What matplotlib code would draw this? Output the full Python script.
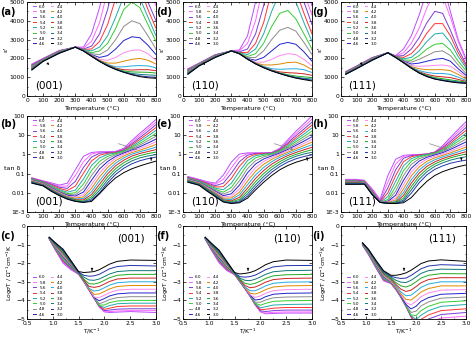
import numpy as np
import matplotlib
matplotlib.use("Agg")
import matplotlib.pyplot as plt
from matplotlib.lines import Line2D

# ---------------- data ----------------
labels = ['6.0', '5.8', '5.6', '5.4', '5.2', '5.0', '4.8', '4.6',
          '4.4', '4.2', '4.0', '3.8', '3.6', '3.4', '3.2', '3.0']
colors = ['#b84dff', '#ff66ff', '#7a3dd6', '#ff3333', '#22aaaa', '#33cc33',
          '#8c8c8c', '#2222cc', '#ff88ee', '#dd8800', '#22aadd', '#cc2222',
          '#22aa22', '#117777', '#2233aa', '#000000']
orients = ['(001)', '(110)', '(111)']

# row 1: permittivity eps' vs temperature
temp_eps = [30, 100, 200, 300, 350, 400, 450, 500, 550, 600, 650, 700, 750, 800]
eps_001 = [
    [1700, 2000, 2420, 2600, 2600, 3300, 4700, 6500, 9000, 9000, 8000, 7000, 6000, 5200],
    [1680, 1990, 2410, 2600, 2550, 2900, 3900, 5600, 8000, 8500, 7800, 6800, 5800, 4800],
    [1650, 1980, 2400, 2600, 2500, 2650, 3300, 4600, 6500, 7500, 7200, 6200, 5000, 4000],
    [1620, 1960, 2390, 2600, 2480, 2500, 2900, 3800, 5200, 6300, 6500, 5800, 4600, 3600],
    [1600, 1950, 2380, 2600, 2460, 2400, 2600, 3200, 4200, 5300, 5700, 5200, 4200, 3200],
    [1580, 1940, 2370, 2600, 2450, 2300, 2400, 2800, 3600, 4600, 5000, 4700, 3800, 2900],
    [1560, 1930, 2360, 2600, 2440, 2250, 2200, 2450, 3000, 3700, 4000, 3850, 3200, 2500],
    [1540, 1920, 2350, 2600, 2430, 2200, 2050, 2150, 2500, 2950, 3150, 3100, 2700, 2200],
    [1520, 1910, 2340, 2600, 2420, 2180, 1950, 1900, 2050, 2300, 2430, 2450, 2250, 1900],
    [1500, 1900, 2330, 2600, 2410, 2160, 1900, 1750, 1750, 1850, 1950, 2000, 1900, 1700],
    [1480, 1890, 2320, 2600, 2400, 2150, 1870, 1680, 1550, 1550, 1600, 1620, 1600, 1500],
    [1460, 1880, 2310, 2600, 2400, 2140, 1860, 1650, 1480, 1400, 1380, 1400, 1400, 1350],
    [1440, 1870, 2300, 2600, 2400, 2130, 1850, 1630, 1450, 1330, 1280, 1270, 1260, 1220],
    [1420, 1860, 2290, 2600, 2400, 2120, 1850, 1620, 1430, 1290, 1200, 1150, 1120, 1100],
    [1400, 1850, 2280, 2600, 2400, 2120, 1840, 1610, 1420, 1270, 1150, 1070, 1020, 1000],
    [1380, 1840, 2270, 2600, 2400, 2110, 1840, 1600, 1410, 1260, 1130, 1030, 970, 940],
]
eps_110 = [
    [1450, 1750, 2200, 2400, 2450, 3200, 5000, 7500, 10000, 10000, 9000, 7500, 6000, 4800],
    [1430, 1740, 2190, 2400, 2400, 2800, 4000, 6000, 8500, 9000, 8500, 7000, 5500, 4300],
    [1410, 1730, 2180, 2400, 2350, 2500, 3300, 4800, 7000, 8000, 7500, 6300, 5000, 3800],
    [1390, 1720, 2170, 2400, 2320, 2300, 2800, 3900, 5600, 6600, 6500, 5600, 4400, 3300],
    [1370, 1710, 2160, 2400, 2300, 2200, 2500, 3300, 4500, 5500, 5600, 5000, 3900, 2900],
    [1350, 1700, 2150, 2400, 2280, 2100, 2250, 2800, 3700, 4400, 4550, 4100, 3300, 2500],
    [1330, 1690, 2140, 2400, 2260, 2050, 2050, 2400, 3000, 3500, 3650, 3450, 2850, 2200],
    [1310, 1680, 2130, 2400, 2250, 2000, 1900, 2050, 2400, 2750, 2850, 2750, 2350, 1850],
    [1290, 1670, 2120, 2400, 2250, 1990, 1800, 1800, 1950, 2150, 2250, 2200, 1950, 1600],
    [1270, 1660, 2110, 2400, 2250, 1980, 1760, 1650, 1650, 1700, 1780, 1800, 1650, 1400],
    [1250, 1650, 2100, 2400, 2250, 1980, 1740, 1570, 1450, 1420, 1440, 1450, 1400, 1250],
    [1230, 1640, 2090, 2400, 2250, 1970, 1730, 1540, 1380, 1280, 1240, 1220, 1180, 1100],
    [1210, 1630, 2080, 2400, 2250, 1970, 1720, 1530, 1360, 1230, 1130, 1060, 1020, 980],
    [1190, 1620, 2070, 2400, 2250, 1960, 1720, 1520, 1350, 1210, 1090, 1000, 940, 900],
    [1170, 1610, 2060, 2400, 2250, 1960, 1710, 1510, 1340, 1200, 1070, 970, 900, 840],
    [1150, 1600, 2050, 2400, 2250, 1960, 1710, 1500, 1330, 1190, 1060, 950, 870, 800],
]
eps_111 = [
    [1300, 1600, 2050, 2300, 2150, 2500, 3200, 4300, 5600, 6500, 6000, 4500, 3000, 2000],
    [1290, 1590, 2040, 2300, 2130, 2300, 2800, 3600, 4700, 5500, 5300, 4200, 2900, 1900],
    [1280, 1580, 2030, 2300, 2120, 2150, 2500, 3100, 3900, 4500, 4400, 3500, 2500, 1700],
    [1270, 1570, 2020, 2300, 2110, 2050, 2250, 2700, 3350, 3850, 3850, 3200, 2300, 1600],
    [1260, 1560, 2010, 2300, 2100, 1980, 2050, 2400, 2900, 3300, 3350, 2850, 2100, 1500],
    [1250, 1550, 2000, 2300, 2090, 1920, 1900, 2150, 2500, 2750, 2800, 2450, 1850, 1350],
    [1240, 1540, 1990, 2300, 2080, 1880, 1800, 1950, 2150, 2350, 2400, 2150, 1650, 1200],
    [1230, 1530, 1980, 2300, 2070, 1850, 1700, 1750, 1850, 1950, 2000, 1850, 1450, 1100],
    [1220, 1520, 1970, 2300, 2060, 1830, 1620, 1580, 1600, 1630, 1650, 1580, 1300, 1000],
    [1210, 1510, 1960, 2300, 2050, 1810, 1560, 1450, 1400, 1400, 1400, 1350, 1150, 900],
    [1200, 1500, 1950, 2300, 2050, 1800, 1530, 1350, 1250, 1200, 1200, 1150, 1000, 830],
    [1190, 1490, 1940, 2300, 2050, 1790, 1510, 1290, 1150, 1060, 1020, 980, 880, 780],
    [1180, 1480, 1930, 2300, 2050, 1780, 1500, 1260, 1090, 980, 920, 860, 800, 740],
    [1170, 1470, 1920, 2300, 2050, 1780, 1490, 1240, 1060, 930, 860, 800, 750, 710],
    [1160, 1460, 1910, 2300, 2050, 1770, 1480, 1230, 1040, 910, 830, 770, 720, 690],
    [1150, 1450, 1900, 2300, 2050, 1770, 1480, 1220, 1030, 900, 820, 750, 700, 670],
]

# row 2: log10(tan delta) vs temperature
temp_tan = [30, 100, 150, 200, 250, 300, 350, 400, 450, 500, 550, 600, 650, 700, 750, 800]
logtan_001 = [
    [-1.22, -1.38, -1.48, -1.60, -1.50, -0.80, -0.10, 0.10, 0.14, 0.14, 0.16, 0.32, 0.72, 1.10, 1.45, 1.82],
    [-1.23, -1.39, -1.51, -1.65, -1.65, -1.10, -0.38, 0.02, 0.12, 0.12, 0.14, 0.28, 0.63, 0.99, 1.33, 1.68],
    [-1.24, -1.41, -1.55, -1.71, -1.77, -1.40, -0.68, -0.14, 0.06, 0.10, 0.12, 0.25, 0.55, 0.88, 1.20, 1.55],
    [-1.26, -1.43, -1.60, -1.77, -1.88, -1.65, -0.98, -0.34, -0.04, 0.06, 0.10, 0.22, 0.48, 0.78, 1.08, 1.40],
    [-1.28, -1.45, -1.64, -1.83, -1.97, -1.86, -1.28, -0.58, -0.18, 0.00, 0.08, 0.19, 0.41, 0.68, 0.96, 1.25],
    [-1.30, -1.47, -1.68, -1.88, -2.04, -2.00, -1.55, -0.84, -0.36, -0.10, 0.04, 0.16, 0.35, 0.58, 0.83, 1.10],
    [-1.32, -1.49, -1.71, -1.92, -2.09, -2.10, -1.78, -1.10, -0.55, -0.22, -0.02, 0.12, 0.29, 0.49, 0.71, 0.95],
    [-1.34, -1.51, -1.74, -1.96, -2.13, -2.17, -1.96, -1.35, -0.76, -0.37, -0.10, 0.07, 0.23, 0.40, 0.59, 0.80],
    [-1.36, -1.53, -1.77, -1.99, -2.17, -2.23, -2.10, -1.57, -0.97, -0.52, -0.20, 0.01, 0.16, 0.31, 0.47, 0.66],
    [-1.38, -1.55, -1.80, -2.02, -2.20, -2.28, -2.21, -1.77, -1.17, -0.68, -0.32, -0.08, 0.09, 0.22, 0.36, 0.52],
    [-1.40, -1.57, -1.82, -2.05, -2.23, -2.32, -2.30, -1.94, -1.37, -0.85, -0.45, -0.18, 0.01, 0.14, 0.25, 0.38],
    [-1.42, -1.59, -1.84, -2.07, -2.26, -2.36, -2.37, -2.09, -1.55, -1.01, -0.59, -0.30, -0.09, 0.05, 0.15, 0.25],
    [-1.44, -1.61, -1.86, -2.09, -2.28, -2.39, -2.43, -2.21, -1.72, -1.17, -0.74, -0.43, -0.21, -0.06, 0.04, 0.12],
    [-1.46, -1.62, -1.88, -2.11, -2.30, -2.42, -2.47, -2.31, -1.87, -1.33, -0.89, -0.57, -0.34, -0.18, -0.08, -0.01],
    [-1.48, -1.63, -1.90, -2.13, -2.32, -2.44, -2.50, -2.39, -2.00, -1.48, -1.04, -0.72, -0.49, -0.33, -0.22, -0.14],
    [-1.50, -1.64, -1.92, -2.15, -2.33, -2.45, -2.50, -2.45, -2.05, -1.60, -1.22, -0.95, -0.75, -0.60, -0.47, -0.35],
]
logtan_110 = [
    [-1.15, -1.30, -1.42, -1.50, -1.08, -0.40, 0.02, 0.08, 0.08, 0.08, 0.10, 0.32, 0.76, 1.20, 1.60, 2.00],
    [-1.17, -1.32, -1.45, -1.56, -1.30, -0.70, -0.15, 0.04, 0.07, 0.07, 0.09, 0.29, 0.68, 1.08, 1.46, 1.84],
    [-1.19, -1.35, -1.49, -1.63, -1.50, -0.98, -0.38, -0.04, 0.05, 0.06, 0.08, 0.26, 0.60, 0.97, 1.32, 1.68],
    [-1.21, -1.37, -1.53, -1.70, -1.68, -1.25, -0.62, -0.16, 0.01, 0.04, 0.07, 0.23, 0.53, 0.86, 1.19, 1.53],
    [-1.23, -1.39, -1.57, -1.76, -1.84, -1.50, -0.88, -0.32, -0.07, 0.01, 0.05, 0.20, 0.46, 0.76, 1.06, 1.38],
    [-1.25, -1.41, -1.61, -1.82, -1.97, -1.72, -1.14, -0.52, -0.18, -0.05, 0.02, 0.16, 0.39, 0.66, 0.93, 1.22],
    [-1.27, -1.43, -1.65, -1.87, -2.07, -1.90, -1.38, -0.74, -0.33, -0.13, -0.02, 0.12, 0.33, 0.56, 0.81, 1.07],
    [-1.29, -1.45, -1.68, -1.92, -2.15, -2.05, -1.60, -0.96, -0.50, -0.24, -0.08, 0.07, 0.26, 0.47, 0.69, 0.92],
    [-1.31, -1.47, -1.71, -1.96, -2.22, -2.17, -1.80, -1.18, -0.69, -0.37, -0.16, 0.01, 0.19, 0.38, 0.57, 0.78],
    [-1.33, -1.49, -1.74, -2.00, -2.28, -2.27, -1.97, -1.39, -0.88, -0.52, -0.26, -0.06, 0.11, 0.29, 0.46, 0.64],
    [-1.35, -1.51, -1.77, -2.04, -2.33, -2.35, -2.11, -1.58, -1.07, -0.68, -0.38, -0.15, 0.03, 0.20, 0.35, 0.50],
    [-1.37, -1.53, -1.80, -2.08, -2.37, -2.42, -2.24, -1.76, -1.25, -0.84, -0.51, -0.26, -0.06, 0.10, 0.24, 0.37],
    [-1.39, -1.55, -1.83, -2.12, -2.41, -2.47, -2.34, -1.92, -1.42, -1.00, -0.65, -0.38, -0.16, 0.00, 0.13, 0.24],
    [-1.41, -1.57, -1.86, -2.15, -2.44, -2.51, -2.42, -2.06, -1.58, -1.15, -0.79, -0.50, -0.27, -0.10, 0.02, 0.11],
    [-1.43, -1.59, -1.89, -2.18, -2.46, -2.54, -2.48, -2.18, -1.72, -1.30, -0.93, -0.63, -0.40, -0.23, -0.11, -0.02],
    [-1.45, -1.61, -1.92, -2.20, -2.48, -2.56, -2.52, -2.28, -1.85, -1.45, -1.10, -0.80, -0.58, -0.41, -0.28, -0.15],
]
logtan_111 = [
    [-1.30, -1.30, -1.35, -1.80, -2.35, -1.10, -0.25, -0.05, -0.02, 0.00, 0.02, 0.12, 0.45, 0.88, 1.30, 1.70],
    [-1.32, -1.32, -1.37, -1.85, -2.40, -1.45, -0.50, -0.10, -0.03, -0.01, 0.02, 0.12, 0.40, 0.78, 1.17, 1.55],
    [-1.34, -1.34, -1.39, -1.90, -2.45, -1.75, -0.80, -0.20, -0.06, -0.02, 0.02, 0.11, 0.35, 0.68, 1.04, 1.40],
    [-1.36, -1.36, -1.41, -1.93, -2.48, -2.00, -1.10, -0.38, -0.12, -0.04, 0.01, 0.10, 0.30, 0.58, 0.92, 1.25],
    [-1.38, -1.38, -1.43, -1.96, -2.50, -2.20, -1.40, -0.60, -0.22, -0.08, 0.00, 0.08, 0.25, 0.50, 0.80, 1.10],
    [-1.40, -1.40, -1.45, -1.98, -2.50, -2.35, -1.68, -0.85, -0.35, -0.14, -0.03, 0.05, 0.20, 0.42, 0.68, 0.95],
    [-1.42, -1.42, -1.46, -2.00, -2.50, -2.42, -1.92, -1.10, -0.52, -0.23, -0.08, 0.02, 0.15, 0.34, 0.56, 0.80],
    [-1.43, -1.43, -1.47, -2.02, -2.50, -2.46, -2.12, -1.35, -0.72, -0.35, -0.15, -0.03, 0.09, 0.26, 0.45, 0.65],
    [-1.44, -1.44, -1.48, -2.04, -2.50, -2.48, -2.28, -1.58, -0.92, -0.50, -0.24, -0.10, 0.02, 0.17, 0.34, 0.50],
    [-1.45, -1.45, -1.49, -2.05, -2.50, -2.50, -2.38, -1.80, -1.12, -0.66, -0.36, -0.18, -0.05, 0.08, 0.23, 0.38],
    [-1.46, -1.46, -1.50, -2.06, -2.50, -2.52, -2.45, -1.98, -1.32, -0.82, -0.49, -0.28, -0.13, 0.00, 0.13, 0.26],
    [-1.48, -1.48, -1.51, -2.07, -2.50, -2.53, -2.50, -2.14, -1.50, -0.98, -0.62, -0.39, -0.22, -0.09, 0.03, 0.14],
    [-1.50, -1.50, -1.52, -2.08, -2.50, -2.54, -2.52, -2.28, -1.68, -1.14, -0.76, -0.50, -0.32, -0.18, -0.07, 0.02],
    [-1.52, -1.52, -1.53, -2.09, -2.50, -2.55, -2.54, -2.38, -1.85, -1.30, -0.90, -0.62, -0.44, -0.30, -0.20, -0.12],
    [-1.54, -1.54, -1.54, -2.10, -2.50, -2.55, -2.55, -2.45, -2.02, -1.48, -1.06, -0.78, -0.60, -0.46, -0.37, -0.30],
    [-1.56, -1.56, -1.55, -2.10, -2.50, -2.55, -2.56, -2.52, -2.25, -1.80, -1.40, -1.10, -0.90, -0.76, -0.64, -0.55],
]

# row 3: log(sigma T) vs 1000/T   (curve order c0..c15 as above)
invT = [0.93, 1.05, 1.2, 1.35, 1.5, 1.6, 1.7, 1.8, 1.9, 2.0, 2.1, 2.25, 2.5, 3.0]
logsig_001 = [
    [-0.70, -1.30, -2.00, -2.35, -2.60, -3.00, -3.45, -3.90, -4.35, -4.62, -4.65, -4.63, -4.60, -4.65],
    [-0.69, -1.28, -1.95, -2.32, -2.58, -2.98, -3.44, -3.89, -4.34, -4.60, -4.60, -4.57, -4.55, -4.55],
    [-0.69, -1.26, -1.90, -2.28, -2.57, -2.97, -3.43, -3.88, -4.32, -4.55, -4.52, -4.47, -4.45, -4.45],
    [-0.68, -1.24, -1.85, -2.25, -2.56, -2.96, -3.42, -3.87, -4.30, -4.48, -4.42, -4.33, -4.30, -4.30],
    [-0.67, -1.22, -1.80, -2.22, -2.55, -2.95, -3.40, -3.85, -4.28, -4.38, -4.28, -4.18, -4.15, -4.15],
    [-0.67, -1.20, -1.75, -2.18, -2.55, -2.95, -3.40, -3.85, -4.25, -4.25, -4.12, -4.03, -4.00, -4.00],
    [-0.66, -1.17, -1.70, -2.15, -2.55, -2.95, -3.40, -3.85, -4.18, -4.08, -3.95, -3.85, -3.80, -3.80],
    [-0.65, -1.14, -1.65, -2.12, -2.55, -2.95, -3.40, -3.85, -4.02, -3.90, -3.76, -3.65, -3.60, -3.60],
    [-0.65, -1.11, -1.60, -2.08, -2.54, -2.94, -3.40, -3.82, -3.85, -3.72, -3.58, -3.45, -3.40, -3.40],
    [-0.64, -1.08, -1.55, -2.05, -2.53, -2.93, -3.38, -3.68, -3.65, -3.52, -3.38, -3.25, -3.20, -3.20],
    [-0.63, -1.05, -1.50, -2.02, -2.52, -2.92, -3.35, -3.50, -3.45, -3.32, -3.18, -3.05, -3.00, -3.00],
    [-0.63, -1.02, -1.45, -1.98, -2.52, -2.90, -3.25, -3.30, -3.25, -3.12, -2.98, -2.85, -2.80, -2.80],
    [-0.62, -0.99, -1.40, -1.95, -2.50, -2.85, -3.10, -3.12, -3.05, -2.92, -2.78, -2.65, -2.60, -2.60],
    [-0.61, -0.96, -1.35, -1.92, -2.50, -2.75, -2.90, -2.92, -2.85, -2.72, -2.58, -2.45, -2.40, -2.40],
    [-0.61, -0.93, -1.30, -1.88, -2.48, -2.65, -2.70, -2.68, -2.60, -2.45, -2.30, -2.18, -2.12, -2.15],
    [-0.60, -0.90, -1.25, -1.85, -2.45, -2.50, -2.48, -2.45, -2.35, -2.20, -2.05, -1.90, -1.83, -1.85],
]
logsig_110 = [
    [-0.70, -1.30, -1.98, -2.40, -2.62, -3.00, -3.38, -3.79, -4.25, -4.62, -4.72, -4.70, -4.68, -4.68],
    [-0.70, -1.28, -1.94, -2.36, -2.60, -2.98, -3.37, -3.78, -4.23, -4.60, -4.68, -4.64, -4.62, -4.62],
    [-0.69, -1.26, -1.90, -2.33, -2.60, -2.98, -3.36, -3.77, -4.22, -4.56, -4.60, -4.55, -4.52, -4.52],
    [-0.68, -1.24, -1.86, -2.30, -2.59, -2.97, -3.35, -3.76, -4.20, -4.50, -4.48, -4.42, -4.38, -4.38],
    [-0.68, -1.22, -1.82, -2.26, -2.58, -2.96, -3.34, -3.75, -4.18, -4.40, -4.34, -4.25, -4.22, -4.20],
    [-0.67, -1.20, -1.78, -2.23, -2.58, -2.96, -3.34, -3.74, -4.15, -4.26, -4.16, -4.05, -4.02, -4.00],
    [-0.66, -1.18, -1.74, -2.20, -2.57, -2.95, -3.33, -3.73, -4.10, -4.10, -3.98, -3.86, -3.82, -3.80],
    [-0.66, -1.16, -1.70, -2.16, -2.57, -2.95, -3.33, -3.72, -3.98, -3.94, -3.80, -3.67, -3.62, -3.60],
    [-0.65, -1.13, -1.65, -2.13, -2.56, -2.94, -3.32, -3.70, -3.84, -3.76, -3.62, -3.48, -3.42, -3.40],
    [-0.64, -1.10, -1.60, -2.10, -2.56, -2.93, -3.30, -3.62, -3.66, -3.56, -3.42, -3.28, -3.22, -3.20],
    [-0.64, -1.07, -1.55, -2.06, -2.55, -2.92, -3.28, -3.48, -3.48, -3.36, -3.22, -3.08, -3.02, -3.00],
    [-0.63, -1.04, -1.50, -2.03, -2.55, -2.90, -3.20, -3.32, -3.28, -3.16, -3.02, -2.88, -2.82, -2.80],
    [-0.62, -1.01, -1.45, -2.00, -2.54, -2.86, -3.08, -3.14, -3.08, -2.96, -2.82, -2.68, -2.62, -2.60],
    [-0.62, -0.98, -1.40, -1.96, -2.53, -2.80, -2.92, -2.94, -2.86, -2.74, -2.60, -2.46, -2.40, -2.38],
    [-0.61, -0.95, -1.35, -1.93, -2.52, -2.72, -2.75, -2.72, -2.64, -2.50, -2.35, -2.20, -2.13, -2.12],
    [-0.60, -0.92, -1.30, -1.90, -2.50, -2.58, -2.55, -2.50, -2.40, -2.25, -2.08, -1.92, -1.83, -1.85],
]
logsig_111 = [
    [-1.04, -1.55, -2.26, -2.95, -3.10, -3.43, -3.85, -4.34, -4.88, -5.50, -5.55, -5.35, -5.12, -5.05],
    [-1.03, -1.53, -2.24, -2.92, -3.08, -3.42, -3.84, -4.33, -4.87, -5.42, -5.40, -5.18, -4.95, -4.85],
    [-1.02, -1.51, -2.22, -2.89, -3.07, -3.41, -3.83, -4.32, -4.86, -5.32, -5.22, -5.00, -4.76, -4.65],
    [-1.01, -1.49, -2.20, -2.86, -3.06, -3.40, -3.82, -4.31, -4.84, -5.20, -5.02, -4.78, -4.55, -4.45],
    [-1.00, -1.47, -2.18, -2.83, -3.05, -3.39, -3.81, -4.30, -4.82, -5.02, -4.80, -4.55, -4.32, -4.22],
    [-1.00, -1.45, -2.15, -2.80, -3.04, -3.38, -3.80, -4.28, -4.78, -4.82, -4.55, -4.32, -4.10, -4.02],
    [-0.99, -1.43, -2.12, -2.76, -3.02, -3.37, -3.78, -4.26, -4.65, -4.58, -4.30, -4.08, -3.88, -3.82],
    [-0.98, -1.41, -2.09, -2.72, -3.00, -3.35, -3.76, -4.22, -4.46, -4.32, -4.05, -3.85, -3.67, -3.62],
    [-0.97, -1.39, -2.06, -2.68, -2.98, -3.32, -3.72, -4.12, -4.24, -4.05, -3.80, -3.60, -3.45, -3.42],
    [-0.96, -1.37, -2.03, -2.64, -2.94, -3.28, -3.65, -3.95, -3.98, -3.78, -3.55, -3.36, -3.22, -3.22],
    [-0.95, -1.35, -2.00, -2.60, -2.90, -3.22, -3.55, -3.75, -3.72, -3.52, -3.30, -3.12, -3.00, -3.00],
    [-0.94, -1.33, -1.97, -2.56, -2.85, -3.15, -3.40, -3.52, -3.45, -3.26, -3.05, -2.88, -2.78, -2.78],
    [-0.93, -1.31, -1.94, -2.52, -2.80, -3.05, -3.22, -3.28, -3.18, -3.00, -2.80, -2.65, -2.56, -2.57],
    [-0.92, -1.29, -1.91, -2.48, -2.75, -2.92, -3.02, -3.04, -2.92, -2.74, -2.55, -2.40, -2.32, -2.34],
    [-0.91, -1.27, -1.88, -2.44, -2.70, -2.78, -2.82, -2.80, -2.66, -2.48, -2.30, -2.15, -2.08, -2.12],
    [-0.90, -1.25, -1.85, -2.40, -2.65, -2.65, -2.60, -2.52, -2.38, -2.20, -2.02, -1.88, -1.82, -1.90],
]

eps_sets = [eps_001, eps_110, eps_111]
tan_sets = [logtan_001, logtan_110, logtan_111]
sig_sets = [logsig_001, logsig_110, logsig_111]
panel_letters = [['(a)', '(d)', '(g)'], ['(b)', '(e)', '(h)'], ['(c)', '(f)', '(i)']]

# ---------------- layout ----------------
W, H = 474, 339
fig = plt.figure(figsize=(W / 100, H / 100), dpi=100)
col_x = [27, 183, 341]
col_w = [129, 129, 125]
row_top = [2, 116, 226]
row_h = [94, 96, 93]

TICK_FS = 4.3
LAB_FS = 4.6


def make_ax(r, c):
    l = col_x[c] / W
    b = 1 - (row_top[r] + row_h[r]) / H
    ax = fig.add_axes([l, b, col_w[c] / W, row_h[r] / H])
    for s in ax.spines.values():
        s.set_linewidth(0.6)
    ax.tick_params(which='both', direction='in', labelsize=TICK_FS, pad=1.5,
                   width=0.5, top=True, right=True)
    ax.tick_params(which='major', length=2)
    ax.tick_params(which='minor', length=1)
    return ax


def add_legend(ax, loc, anchor):
    handles = [Line2D([], [], color=colors[k], lw=0.7) for k in range(16)]
    ax.legend(handles, labels, ncol=2, loc=loc, bbox_to_anchor=anchor,
              fontsize=3.0, frameon=False, handlelength=0.6, handletextpad=0.8,
              labelspacing=0.32, columnspacing=1.2, borderaxespad=0.2)


for c in range(3):
    # ---- row 1: permittivity ----
    ax = make_ax(0, c)
    for k in range(16):
        ax.plot(temp_eps, eps_sets[c][k], color=colors[k], lw=0.7)
    ax.set_xlim(0, 800)
    ax.set_ylim(0, 5000)
    ax.set_xticks(range(0, 801, 100))
    ax.set_yticks(range(0, 5001, 1000))
    ax.set_xticks(range(50, 800, 100), minor=True)
    ax.set_yticks(range(500, 5000, 1000), minor=True)
    ax.set_xlabel('Temperature (\u00b0C)', fontsize=LAB_FS, labelpad=2)
    ax.set_ylabel("\u03b5'", fontsize=LAB_FS, labelpad=1)
    ax.text(0.06, 0.08, orients[c], transform=ax.transAxes, fontsize=7.5)
    add_legend(ax, 'upper left', (0.03, 1.0))
    ax.annotate('', xy=(150, 1550), xytext=(120, 1800),
                arrowprops=dict(arrowstyle='-|>', lw=0.5, color='black',
                                mutation_scale=3))

    # ---- row 2: tan delta ----
    ax = make_ax(1, c)
    for k in range(16):
        ax.plot(temp_tan, [10 ** v for v in tan_sets[c][k]], color=colors[k], lw=0.7)
    ax.set_yscale('log')
    ax.set_xlim(0, 800)
    ax.set_ylim(1e-3, 100)
    ax.set_xticks(range(0, 801, 100))
    ax.set_xticks(range(50, 800, 100), minor=True)
    ax.set_yticks([1e-3, 1e-2, 1e-1, 1, 10, 100])
    ax.set_yticklabels(['1E-3', '0.01', '0.1', '1', '10', '100'])
    ax.yaxis.set_minor_locator(matplotlib.ticker.NullLocator())
    ax.set_xlabel('Temperature (\u00b0C)', fontsize=LAB_FS, labelpad=2)
    ax.text(-0.115, 0.45, 'tan \u03b4', transform=ax.transAxes, fontsize=LAB_FS,
            ha='center', va='center')
    ax.text(0.06, 0.08, orients[c], transform=ax.transAxes, fontsize=7.5)
    add_legend(ax, 'upper left', (0.03, 1.0))
    ax.annotate('', xy=(700, 1.6), xytext=(550, 4.0),
                arrowprops=dict(arrowstyle='-|>', lw=0.5, color='#888888',
                                mutation_scale=3))
    ax.annotate('', xy=(770, 0.35), xytext=(770, 0.7),
                arrowprops=dict(arrowstyle='-|>', lw=0.5, color='black',
                                mutation_scale=3))

    # ---- row 3: conductivity ----
    ax = make_ax(2, c)
    for k in range(16):
        ax.plot(invT, sig_sets[c][k], color=colors[k], lw=0.7)
    ax.set_xlim(0.5, 3.0)
    ax.set_ylim(-5, 0)
    ax.set_xticks([0.5, 1.0, 1.5, 2.0, 2.5, 3.0])
    ax.set_xticks([0.75, 1.25, 1.75, 2.25, 2.75], minor=True)
    ax.set_yticks([0, -1, -2, -3, -4, -5])
    ax.set_yticks([-0.5, -1.5, -2.5, -3.5, -4.5], minor=True)
    ax.set_xlabel('T/K$^{-1}$', fontsize=4.3, labelpad=0.5)
    ax.set_ylabel('Log$\\sigma$T / $\\Omega^{-1}$cm$^{-1}$K', fontsize=4.3, labelpad=1)
    ax.text(0.70, 0.83, orients[c], transform=ax.transAxes, fontsize=7.5)
    add_legend(ax, 'lower left', (0.03, 0.0))
    ax.annotate('', xy=(1.76, -2.55), xytext=(1.76, -2.25),
                arrowprops=dict(arrowstyle='-|>', lw=0.5, color='black',
                                mutation_scale=3))

# panel letters
letter_pos_x = [0, 156, 312]
letter_pos_y = [12, 124, 236]
for r in range(3):
    for c in range(3):
        fig.text(letter_pos_x[c] / W, 1 - letter_pos_y[r] / H, panel_letters[r][c],
                 fontsize=7, fontweight='bold', ha='left', va='center')

fig.savefig('out.png', dpi=100)
